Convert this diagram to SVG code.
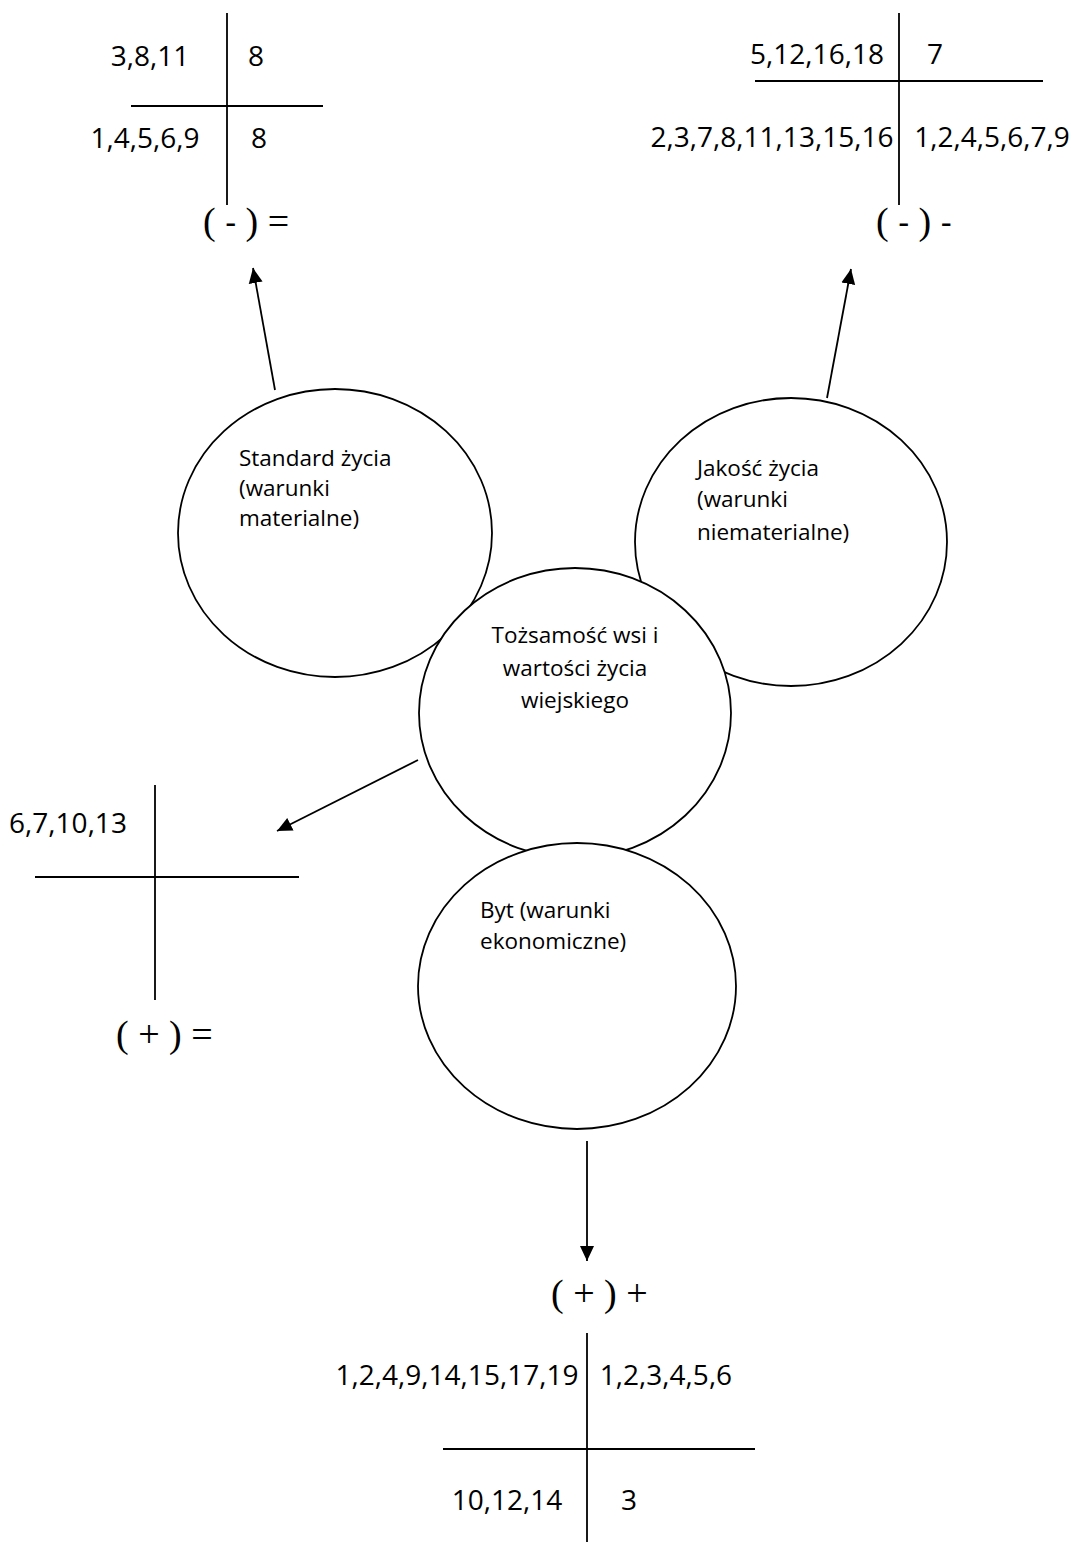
<svg xmlns="http://www.w3.org/2000/svg" width="1076" height="1542" viewBox="0 0 1076 1542">
<style>
.bg{fill:#ffffff}
.ln{stroke:#000;stroke-width:1.8;fill:none}
.node ellipse{fill:#fff;stroke:#000;stroke-width:1.8}
.lbl{font-family:"Open Sans","DejaVu Sans",sans-serif;font-size:22.5px;fill:#000}
.num{font-family:"Open Sans","DejaVu Sans",sans-serif;font-size:28px;fill:#000;text-anchor:middle}
.sym{font-family:"Liberation Serif","Times New Roman",serif;font-size:38px;fill:#000}
.hy{font-family:"Open Sans","DejaVu Sans",sans-serif;font-size:34px}
.arr{stroke:#000;stroke-width:1.8;fill:none;marker-end:url(#ah)}
</style>
<defs>
<marker id="ah" markerUnits="userSpaceOnUse" markerWidth="16" markerHeight="16" viewBox="0 0 16 16" refX="15" refY="8" orient="auto">
<path d="M0,1 L15,8 L0,15 Z" fill="#000"/>
</marker>
</defs>
<rect class="bg" x="0" y="0" width="1076" height="1542"/>

<g id="table-top-left">
<line class="ln" x1="227" y1="13" x2="227" y2="205"/>
<line class="ln" x1="131" y1="106" x2="323" y2="106"/>
<text class="num" x="150" y="66">3,8,11</text>
<text class="num" x="256" y="66">8</text>
<text class="num" x="145" y="148">1,4,5,6,9</text>
<text class="num" x="259" y="148">8</text>
<text class="sym" x="203" y="234">( <tspan class="hy">-</tspan> ) =</text>
</g>

<g id="table-top-right">
<line class="ln" x1="899" y1="13" x2="899" y2="205"/>
<line class="ln" x1="755" y1="81" x2="1043" y2="81"/>
<text class="num" x="817" y="64">5,12,16,18</text>
<text class="num" x="935" y="64">7</text>
<text class="num" x="772" y="147">2,3,7,8,11,13,15,16</text>
<text class="num" x="992" y="147">1,2,4,5,6,7,9</text>
<text class="sym" x="876" y="234">( <tspan class="hy">-</tspan> ) <tspan class="hy">-</tspan></text>
</g>

<g id="table-left">
<line class="ln" x1="155" y1="785" x2="155" y2="1000"/>
<line class="ln" x1="35" y1="877" x2="299" y2="877"/>
<text class="num" x="68" y="833">6,7,10,13</text>
<text class="sym" x="116" y="1047">( + ) =</text>
</g>

<g id="table-bottom">
<line class="ln" x1="587" y1="1333" x2="587" y2="1542"/>
<line class="ln" x1="443" y1="1449" x2="755" y2="1449"/>
<text class="sym" x="551" y="1306">( + ) +</text>
<text class="num" x="457" y="1385">1,2,4,9,14,15,17,19</text>
<text class="num" x="666" y="1385">1,2,3,4,5,6</text>
<text class="num" x="507" y="1510">10,12,14</text>
<text class="num" x="629" y="1510">3</text>
</g>

<g id="connectors">
<line class="arr" x1="275" y1="390" x2="253" y2="268"/>
<line class="arr" x1="827" y1="398" x2="851" y2="269"/>
<line class="arr" x1="418" y1="760" x2="277" y2="831"/>
<line class="arr" x1="587" y1="1141" x2="587" y2="1261"/>
</g>

<g id="node-standard" class="node">
<ellipse cx="335" cy="533" rx="157" ry="144"/>
<text class="lbl" x="239" y="466">Standard życia</text>
<text class="lbl" x="239" y="496">(warunki</text>
<text class="lbl" x="239" y="526">materialne)</text>
</g>

<g id="node-jakosc" class="node">
<ellipse cx="791" cy="542" rx="156" ry="144"/>
<text class="lbl" x="697" y="476">Jakość życia</text>
<text class="lbl" x="697" y="507">(warunki</text>
<text class="lbl" x="697" y="540">niematerialne)</text>
</g>

<g id="node-tozsamosc" class="node">
<ellipse cx="575" cy="713" rx="156" ry="145"/>
<text class="lbl" x="575" y="643" text-anchor="middle">Tożsamość wsi i</text>
<text class="lbl" x="575" y="676" text-anchor="middle">wartości życia</text>
<text class="lbl" x="575" y="708" text-anchor="middle">wiejskiego</text>
</g>

<g id="node-byt" class="node">
<ellipse cx="577" cy="986" rx="159" ry="143"/>
<text class="lbl" x="480" y="918">Byt (warunki</text>
<text class="lbl" x="480" y="949">ekonomiczne)</text>
</g>
</svg>
